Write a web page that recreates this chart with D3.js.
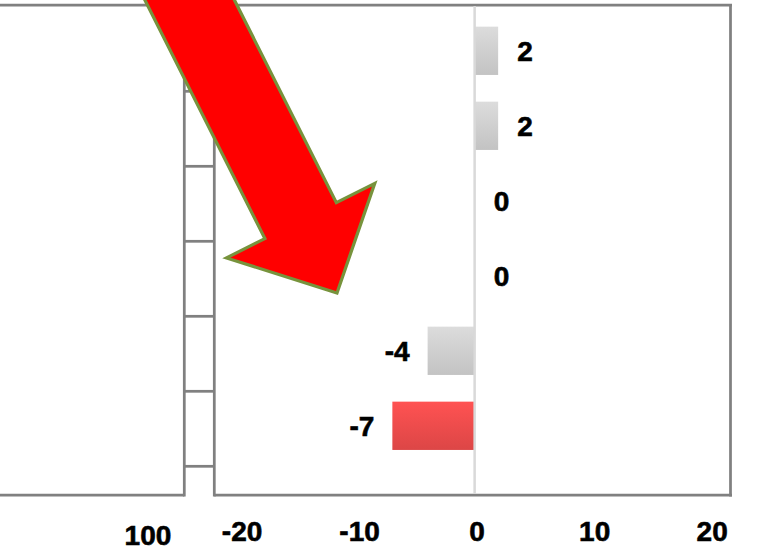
<!DOCTYPE html>
<html>
<head>
<meta charset="utf-8">
<script src="https://cdn.jsdelivr.net/npm/d3@7"></script>
<style>
  html, body { margin: 0; padding: 0; background: #ffffff; }
  svg { display: block; }
  text { font-family: "Liberation Sans", Arial, sans-serif; font-weight: bold; fill: #000; stroke: #000; stroke-width: 0.6px; }
</style>
</head>
<body>
<svg id="chart" width="757" height="550"></svg>
<script>
// ---- data ----
const categories = ["A", "B", "C", "D", "E", "F"];
const changeValues = [2, 2, 0, 0, -4, -7];
const changeTicks = [-20, -10, 0, 10, 20];
const leftTicks = [100];

// ---- layout ----
const plotTop = 5, plotBottom = 495;
const leftPanelRight = 184.3;
const rightPanelLeft = 214.3;
const rightPanelRight = 730.5;
const frameColor = "#808080";
const frameWidth = 2.75;
const labelSize = 28;
const fmt = d => String(d);   // plain hyphen for negatives

const svg = d3.select("#chart");

// scales
const x = d3.scaleLinear().domain([-22.15, 21.77]).range([rightPanelLeft, rightPanelRight]);
const y = d3.scaleBand().domain(categories).range([13.3, 463.3])
  .paddingInner(0.356).paddingOuter(0.178);
const rows = d3.scaleBand().domain(categories).range([16.3, 466.3]);
const xLeft = d3.scaleLinear().domain([0, 120]).range([-37, leftPanelRight]);

// gradients for the bars
const defs = svg.append("defs");
function vGrad(id, c0, c1) {
  const g = defs.append("linearGradient").attr("id", id)
    .attr("x1", 0).attr("y1", 0).attr("x2", 0).attr("y2", 1);
  g.append("stop").attr("offset", "0%").attr("stop-color", c0);
  g.append("stop").attr("offset", "100%").attr("stop-color", c1);
}
vGrad("gradGray", "#dcdcdc", "#c3c3c3");
vGrad("gradRed", "#ff5252", "#dc4646");

// ---- frame lines ----
const frame = svg.append("g").attr("stroke", frameColor).attr("stroke-width", frameWidth).attr("fill", "none");
frame.append("line").attr("x1", 0).attr("x2", rightPanelRight + 1.5).attr("y1", plotTop).attr("y2", plotTop);
frame.append("line").attr("x1", 0).attr("x2", leftPanelRight).attr("y1", plotBottom).attr("y2", plotBottom);
frame.append("line").attr("x1", rightPanelLeft).attr("x2", rightPanelRight + 1.5).attr("y1", plotBottom).attr("y2", plotBottom);
frame.append("line").attr("x1", leftPanelRight).attr("x2", leftPanelRight).attr("y1", plotTop).attr("y2", plotBottom + frameWidth / 2);
frame.append("line").attr("x1", rightPanelLeft).attr("x2", rightPanelLeft).attr("y1", plotTop).attr("y2", plotBottom + frameWidth / 2);
frame.append("line").attr("x1", rightPanelRight).attr("x2", rightPanelRight).attr("y1", plotTop).attr("y2", plotBottom + frameWidth / 2);

// row dividers in the strip between the panels
const rowEdges = categories.map(c => rows(c)).concat([rows.range()[1]]);
frame.selectAll("line.row").data(rowEdges).join("line")
  .attr("class", "row")
  .attr("x1", leftPanelRight).attr("x2", rightPanelLeft)
  .attr("y1", d => d).attr("y2", d => d);

// ---- bars ----
const minVal = d3.min(changeValues);
const bars = svg.append("g");
bars.selectAll("rect").data(changeValues).join("rect")
  .attr("x", d => x(Math.min(0, d)))
  .attr("width", d => Math.abs(x(d) - x(0)))
  .attr("y", (d, i) => y(categories[i]))
  .attr("height", y.bandwidth())
  .attr("fill", d => d === minVal ? "url(#gradRed)" : "url(#gradGray)");

// zero line
svg.append("line")
  .attr("x1", x(0)).attr("x2", x(0))
  .attr("y1", plotTop + 1).attr("y2", plotBottom - 1)
  .attr("stroke", "#d9d9d9").attr("stroke-width", 2.5);

// value labels
svg.append("g").selectAll("text").data(changeValues).join("text")
  .attr("x", d => d < 0 ? x(d) - 18 : x(Math.max(d, 0)) + 19)
  .attr("y", (d, i) => y(categories[i]) + y.bandwidth() / 2 + 10)
  .attr("text-anchor", d => d < 0 ? "end" : "start")
  .attr("font-size", labelSize)
  .text(fmt);

// ---- axes ----
const xAxis = svg.append("g").attr("transform", `translate(0,${plotBottom})`)
  .call(d3.axisBottom(x).tickValues(changeTicks).tickSize(0).tickPadding(26).tickFormat(fmt));
xAxis.select(".domain").remove();
xAxis.selectAll("text").attr("font-size", labelSize).attr("dx", 2)
  .style("font-family", "'Liberation Sans', Arial, sans-serif").style("font-weight", "bold").attr("fill", "#000");

const leftAxis = svg.append("g").attr("transform", `translate(0,${plotBottom})`)
  .call(d3.axisBottom(xLeft).tickValues(leftTicks).tickSize(0).tickPadding(30.5).tickFormat(fmt));
leftAxis.select(".domain").remove();
leftAxis.selectAll("text").attr("font-size", labelSize)
  .style("font-family", "'Liberation Sans', Arial, sans-serif").style("font-weight", "bold").attr("fill", "#000");

// ---- callout arrow ----
const arrow = {
  tip: [337, 293],
  angle: 63.3 * Math.PI / 180,
  headLength: 81,
  headHalf: 83,
  shaftHalf: 40,
  shaftLength: 300
};
(function drawArrow(a) {
  const u = [Math.cos(a.angle), Math.sin(a.angle)];
  const n = [u[1], -u[0]];
  const base = [a.tip[0] - a.headLength * u[0], a.tip[1] - a.headLength * u[1]];
  const tail = [base[0] - a.shaftLength * u[0], base[1] - a.shaftLength * u[1]];
  const off = (p, k) => [p[0] + k * n[0], p[1] + k * n[1]];
  const pts = [
    off(tail, -a.shaftHalf),
    off(base, -a.shaftHalf),
    off(base, -a.headHalf),
    a.tip,
    off(base, a.headHalf),
    off(base, a.shaftHalf),
    off(tail, a.shaftHalf)
  ];
  svg.append("path")
    .attr("d", d3.line()(pts) + "Z")
    .attr("fill", "#ff0000")
    .attr("stroke", "#77933c")
    .attr("stroke-width", 3.2)
    .attr("stroke-linejoin", "miter");
})(arrow);
</script>
</body>
</html>
